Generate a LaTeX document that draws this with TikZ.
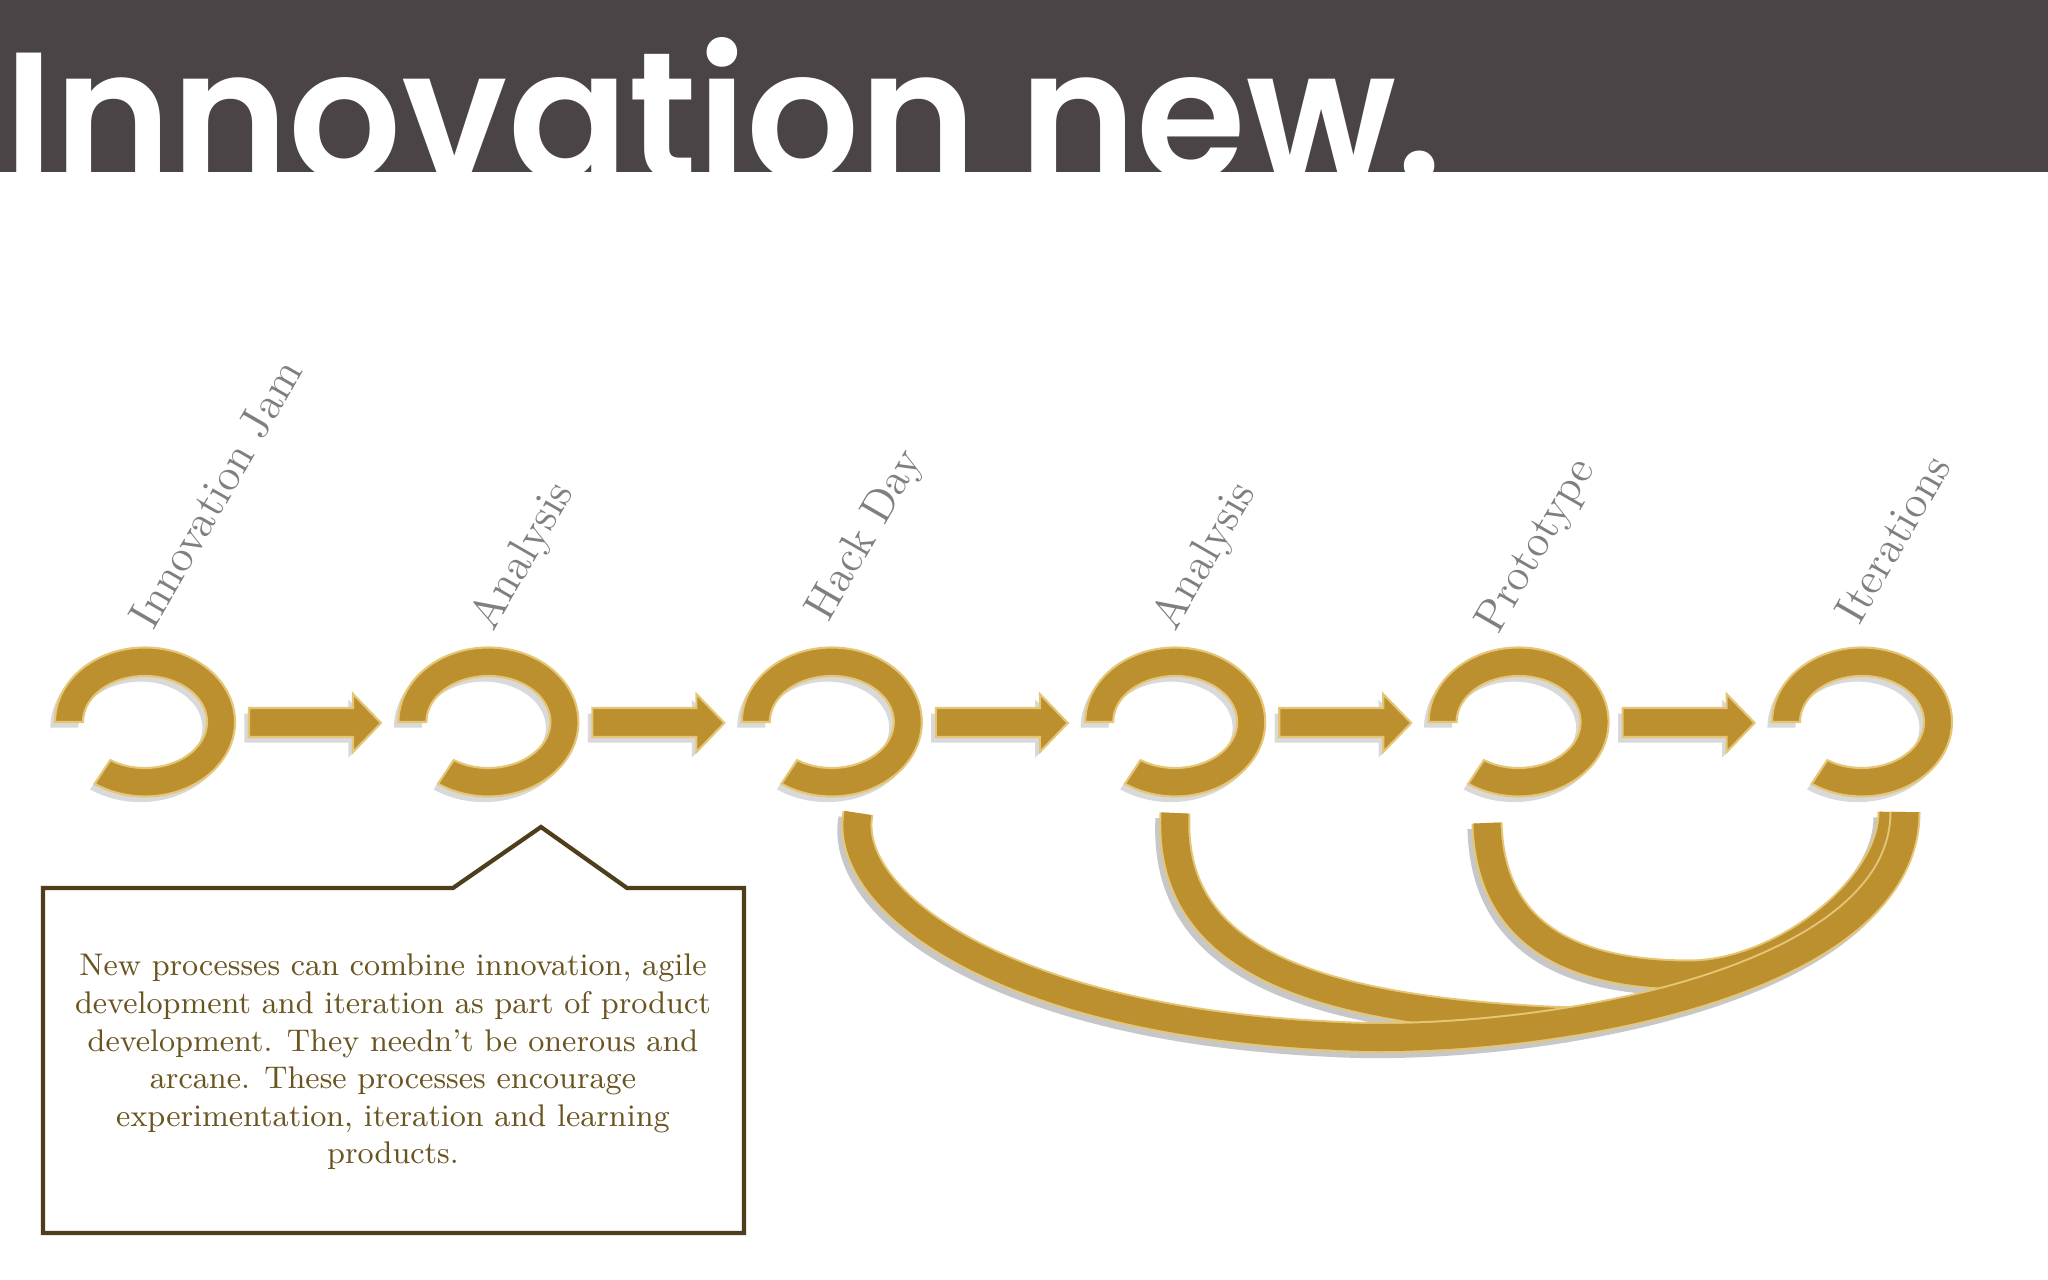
\documentclass[tikz,border=0pt]{standalone}
\usepackage{fontspec}
\newfontfamily\titlefont{Poppins SemiBold}
\usetikzlibrary{shadows}

\definecolor{headband}{HTML}{4A4446}
\definecolor{goldfill}{HTML}{BC902F}
\definecolor{goldedge}{HTML}{E4C676}
\definecolor{labelgray}{HTML}{7F7F7F}
\definecolor{noteedge}{HTML}{4E3E1C}
\definecolor{notetext}{HTML}{6A5420}

\tikzset{
  ring/.style={fill=goldfill, draw=goldedge, line width=0.6pt,
    drop shadow={shadow xshift=-1.3pt, shadow yshift=-1.6pt, opacity=0.3}},
  bandshadow/.style={draw=black!22, line width=0.3cm,
    transform canvas={xshift=-1.3pt, yshift=-1.6pt}},
  loopband/.style={draw=goldfill, line width=0.27cm,
    preaction={draw=goldedge, line width=0.31cm}},
  steplabel/.style={rotate=60, anchor=base west, inner sep=0pt,
    text=labelgray, font=\fontsize{12.8}{15}\selectfont},
  titletext/.style={anchor=base west, inner sep=0pt, text=white, xscale=0.98,
    font=\titlefont\fontsize{51.5}{60}\selectfont}
}

\begin{document}
\begin{tikzpicture}[x=0.01cm, y=-0.01cm]
\useasboundingbox (0,0) rectangle (2048,1280);

% header
\fill[headband] (0,0) rectangle (2048,172);
\node[titletext] (title) at (4,180) {Innovation new.};

% rings and arrows
\foreach \i in {0,...,5} {
  \pgfmathsetmacro\cx{145+343.4*\i}
  \coordinate (r\i) at (\cx,722);
  \fill[ring] (\cx,722) ++(180:90 and 74.5)
    arc[start angle=180, end angle=484, x radius=90, y radius=74.5]
    -- ++({-28*cos(484)},{-28.5*sin(484)})
    arc[start angle=484, end angle=180, x radius=62, y radius=46] -- cycle;
}
\foreach \i in {0,...,4} {
  \pgfmathsetmacro\cx{145+343.4*\i}
  \fill[ring] (\cx+104,708) -- (\cx+208,708) -- (\cx+208,694) -- (\cx+236,723)
    -- (\cx+208,752) -- (\cx+208,737) -- (\cx+104,737) -- cycle;
}

% labels
\node[steplabel] (l1) at (153,632) {Innovation Jam};
\node[steplabel] (l2) at (493,633) {Analysis};
\node[steplabel] (l3) at (828,624) {Hack Day};
\node[steplabel] (l4) at (1175,633) {Analysis};
\node[steplabel] (l5) at (1498,636) {Prototype};
\node[steplabel] (l6) at (1859,627) {Iterations};

% loops back to the last ring
\coordinate (s3) at (858,813);
\coordinate (s4) at (1175,813);
\coordinate (s5) at (1487,823);
\coordinate (ea) at (1905,812);
\coordinate (eb) at (1572,1022);
\coordinate (ec) at (1893,812);
\def\loopC{(s5) .. controls (1490,940) and (1580,975) .. (1690,975)
  .. controls (1780,975) and (1893,890) .. (ec)}
\def\loopB{(s4) .. controls (1168,955) and (1300,1012) .. (eb)}
\def\loopA{(s3) .. controls (842,900) and (1000,1020) .. (1330,1036)
  .. controls (1520,1048) and (1905,990) .. (ea)}
\draw[bandshadow] \loopC;
\draw[bandshadow] \loopB;
\draw[bandshadow] \loopA;
\draw[loopband] \loopC;
\draw[loopband] \loopB;
\draw[loopband] \loopA;

% note
\draw[noteedge, line width=1.2pt, fill=white] (43,888) -- (453,888) -- (541,827)
  -- (627,888) -- (744,888) -- (744,1233) -- (43,1233) -- cycle;
\node[text=notetext, align=center, font=\fontsize{8.9}{10.7}\selectfont] (note) at (393,1062)
  {New processes can combine innovation, agile\\
   development and iteration as part of product\\
   development. They needn't be onerous and\\
   arcane. These processes encourage\\
   experimentation, iteration and learning\\
   products.};
\end{tikzpicture}
\end{document}
